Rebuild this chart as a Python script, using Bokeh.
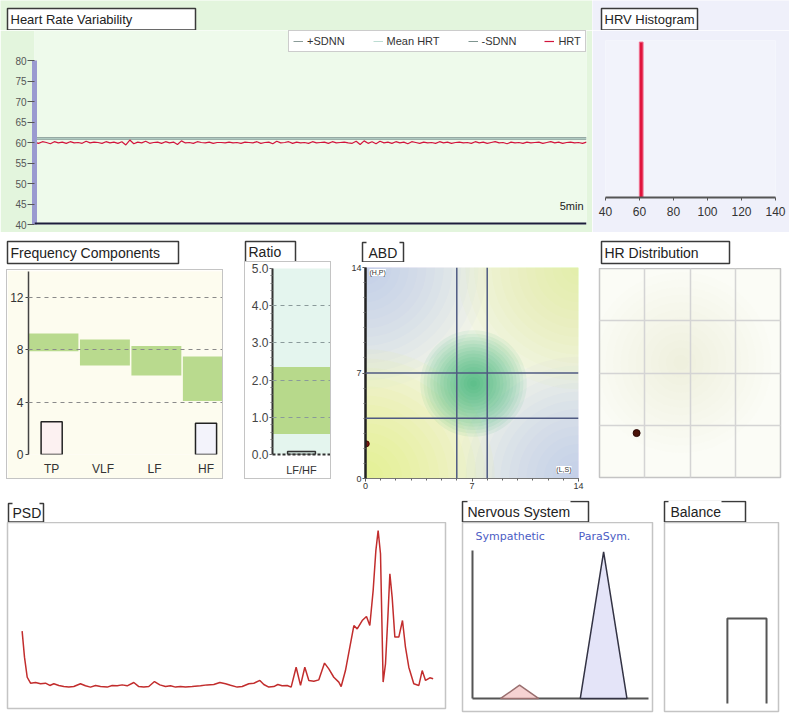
import numpy as np
from bokeh.plotting import figure
from bokeh.layouts import row, column
from bokeh.models import (BoxAnnotation, Label, Span, Legend, LegendItem, FixedTicker,
                          Range1d, FactorRange, ColumnDataSource, Grid, PrintfTickFormatter,
                          Spacer)
from bokeh.embed import file_html
from bokeh.resources import INLINE

# ---------------- data ----------------
hrt = [60.1, 59.8, 60.2, 60.0, 59.7, 60.2, 59.9, 60.1, 59.8, 60.2,
       59.9, 60.0, 59.8, 60.3, 59.9, 60.1, 60.0, 59.8, 60.2, 59.9,
       60.1, 59.8, 60.2, 59.4, 60.6, 59.7, 60.1, 59.9, 60.3, 59.8,
       60.0, 60.1, 59.8, 60.2, 59.9, 60.1, 59.5, 60.4, 59.9, 60.0,
       59.8, 60.2, 60.0, 59.9, 60.1, 59.8, 60.0, 60.0, 59.9, 60.1,
       59.9, 60.0, 59.8, 60.1, 60.0, 59.9, 60.2, 59.8, 60.0, 60.1,
       59.7, 60.3, 59.9, 60.0, 60.2, 59.8, 60.1, 59.9, 60.0, 59.8,
       60.2, 59.9, 60.0, 60.1, 59.8, 60.2, 59.9, 60.0, 60.1, 59.9,
       59.8, 60.3, 59.5, 60.4, 59.8, 60.2, 59.7, 60.3, 59.9, 60.1,
       59.8, 60.2, 59.9, 60.1, 59.7, 60.2, 60.0, 59.8, 60.1, 59.9,
       60.0, 59.8, 60.2, 59.9, 60.1, 59.8, 60.0, 60.1, 59.9, 60.0,
       59.8, 60.2, 59.9, 60.1, 59.8, 60.0, 60.2, 59.9, 60.0, 59.7,
       60.1, 59.9, 60.0, 59.8, 60.1, 59.9, 60.0, 60.1, 59.8, 60.0,
       60.2, 59.9, 60.1, 59.8, 60.0, 60.1, 59.9, 60.0, 59.8, 60.1]
mean_hrt = 61.0
sdnn = 0.2
hrv_ticks = [40, 45, 50, 55, 60, 65, 70, 75, 80]

hist_bin = [61]
hist_freq = [0.99]
hist_ticks = [40, 60, 80, 100, 120, 140]

freq_cats = ["TP", "VLF", "LF", "HF"]
freq_low = [7.9, 6.8, 6.05, 4.1]
freq_high = [9.25, 8.8, 8.3, 7.5]
freq_val = [2.5, 0.0, 0.0, 2.4]
freq_ticks = [0, 4, 8, 12]

ratio_cat = ["LF/HF"]
ratio_low = [0.55]
ratio_high = [2.35]
ratio_val = [0.08]
ratio_ticks = [0, 1, 2, 3, 4, 5]

abd_ticks = [0, 7, 14]
abd_vlines = [6, 8]
abd_hlines = [4, 7]
abd_cx = [7.1]
abd_cy = [6.3]
abd_pt_x = [0.05]
abd_pt_y = [2.3]

hrd_x = [0.82]
hrd_y = [0.85]

psd_freq = [0.0167, 0.0194, 0.0225, 0.0263, 0.0320, 0.0377, 0.0434, 0.0483, 0.0529, 0.0586,
            0.0643, 0.0700, 0.0757, 0.0833, 0.0890, 0.0947, 0.1005, 0.1062, 0.1138, 0.1195,
            0.1252, 0.1309, 0.1366, 0.1442, 0.1499, 0.1556, 0.1613, 0.1678, 0.1739, 0.1804,
            0.1861, 0.1918, 0.1975, 0.2032, 0.2108, 0.2203, 0.2279, 0.2355, 0.2424, 0.2489,
            0.2546, 0.2622, 0.2679, 0.2755, 0.2812, 0.2881, 0.2926, 0.2983, 0.3040, 0.3086,
            0.3135, 0.3193, 0.3238, 0.3295, 0.3345, 0.3394, 0.3440, 0.3497, 0.3554, 0.3619,
            0.3668, 0.3725, 0.3782, 0.3809, 0.3858, 0.3908, 0.3954, 0.3992, 0.4049, 0.4098,
            0.4136, 0.4174, 0.4205, 0.4231, 0.4258, 0.4288, 0.4315, 0.4342, 0.4365, 0.4391,
            0.4422, 0.4467, 0.4509, 0.4543, 0.4581, 0.4638, 0.4696, 0.4734, 0.4772, 0.4821, 0.4859]
psd_power = [41.6, 27.6, 16.8, 13.6, 14.0, 13.3, 13.6, 12.4, 13.3, 12.4,
             11.8, 11.5, 11.8, 13.3, 12.2, 11.5, 12.4, 11.8, 11.5, 12.4,
             12.2, 12.7, 12.2, 14.0, 11.8, 11.5, 11.8, 14.5, 12.7, 11.8,
             12.2, 11.5, 11.8, 11.5, 11.8, 12.2, 12.7, 12.9, 14.0, 13.3,
             12.5, 11.5, 11.8, 13.3, 13.6, 15.1, 12.9, 11.5, 11.8, 12.9,
             12.2, 12.4, 11.5, 22.2, 12.4, 22.2, 15.1, 14.7, 15.4, 24.4,
             21.3, 16.8, 14.2, 11.8, 20.4, 33.0, 44.6, 42.8, 47.3, 49.5,
             44.6, 63.4, 84.9, 95.7, 83.2, 14.2, 24.0, 49.1, 72.4, 59.9,
             38.4, 38.4, 47.3, 33.0, 22.2, 13.3, 12.4, 20.4, 15.1, 16.5, 16.0]

ns_labels = ["Sympathetic", "ParaSym."]
ns_vals = [0.09, 0.99]

balance_pos = [0.67]
balance_level = [0.47]

# ---------------- helpers ----------------
FONT = "Liberation Sans"
SVG = dict(output_backend="svg", toolbar_location=None, title=None, frame_align=False)
OUTLINE = {"outline": "1px solid #c4c4c4"}


def borders(l, r, t, b):
    return dict(min_border_left=l, min_border_right=r, min_border_top=t, min_border_bottom=b)


def cbox(p, l, t, r, b, fill=None, line=None, lw=1.0):
    p.add_layout(BoxAnnotation(
        left=l, right=r, top=t, bottom=b,
        left_units="canvas", right_units="canvas", top_units="canvas", bottom_units="canvas",
        fill_color=fill, fill_alpha=1.0, line_color=line, line_width=lw, line_alpha=1.0,
        level="annotation"))


def ctext(p, x, y, text, size="14px", color="#222222", font=FONT, align="left", bg=None):
    p.add_layout(Label(x=x, y=y, x_units="canvas", y_units="canvas", text=text,
                       text_font=font, text_font_size=size, text_color=color,
                       text_align=align, text_baseline="middle",
                       background_fill_color=bg))


def drop_grids(p):
    p.center = [r for r in p.center if not isinstance(r, Grid)]


def title_fig(W, H, fill, box, text, tx=None, gap=None, size="14px"):
    t = figure(width=W, height=H, x_range=Range1d(0, W), y_range=Range1d(0, H),
               x_axis_location=None, y_axis_location=None, **borders(0, 0, 0, 0), **SVG)
    t.border_fill_color = fill
    t.background_fill_color = fill
    t.outline_line_color = None
    drop_grids(t)
    l, tp, r, b = box
    cbox(t, l, tp, r, b, fill="white", line="#3a3a3a", lw=1.5)
    if gap:
        cbox(t, gap[0], tp - 2, gap[1], tp + 1.5, fill="white")
    ctext(t, tx if tx is not None else l + 3, (tp + b) / 2 + 0.5, text, size=size)
    return t


def rings(p, x, y, rmax, color, alpha, n):
    for k in range(n):
        p.circle(x=x, y=y, radius=rmax * (k + 1) / n, fill_color=color,
                 fill_alpha=alpha, line_color=None)


def style_axis(ax, size="12px", color="#333333", standoff=2):
    ax.major_label_text_font = FONT
    ax.major_label_text_font_size = size
    ax.major_label_text_color = color
    ax.major_label_standoff = standoff


GREEN_BG = "#e3f5dd"
LAV_BG = "#eff0fa"

# ---------------- HRV ----------------
N = len(hrt)
beat = list(range(N))
t1 = title_fig(592, 30, GREEN_BG, (7, 8, 195, 29.5), "Heart Rate Variability", size="13px")
p1 = figure(width=592, height=202, x_range=Range1d(0, N - 1), y_range=Range1d(40, 87.32),
            x_axis_location=None, **borders(34, 6, 0, 8), **SVG)
p1.border_fill_color = GREEN_BG
p1.background_fill_color = "#eefaeb"
p1.outline_line_color = None
drop_grids(p1)
ya = p1.yaxis[0]
ya.ticker = FixedTicker(ticks=hrv_ticks)
ya.bounds = (40, 80)
ya.axis_line_color = "#9a9ad0"
ya.axis_line_width = 5
ya.major_tick_out = 7
ya.major_tick_in = 0
ya.major_tick_line_color = "#555555"
ya.minor_tick_line_color = None
style_axis(ya, size="10px", color="#555555", standoff=1)

r_plus = p1.line([0, N - 1], [mean_hrt + sdnn] * 2, line_color="#8a9c98", line_width=1)
r_mean = p1.line([0, N - 1], [mean_hrt] * 2, line_color="#bcdcd2", line_width=1)
r_minus = p1.line([0, N - 1], [mean_hrt - sdnn] * 2, line_color="#7f9590", line_width=1)
r_hrt = p1.line(beat, hrt, line_color="#d2143c", line_width=1.2)

legend = Legend(items=[LegendItem(label="+SDNN", renderers=[r_plus]),
                       LegendItem(label="Mean HRT", renderers=[r_mean]),
                       LegendItem(label="-SDNN", renderers=[r_minus]),
                       LegendItem(label="HRT", renderers=[r_hrt])],
                orientation="horizontal", location=(254, 172),
                label_text_font=FONT, label_text_font_size="11px", label_text_color="#333333",
                glyph_width=10, glyph_height=10, label_standoff=4, spacing=28,
                padding=4, margin=0, border_line_color="#9a9a9a",
                background_fill_color="white", background_fill_alpha=1.0)
p1.add_layout(legend)
p1.add_layout(Span(location=40, dimension="width", line_color="#1c1c3a", line_width=4))
ctext(p1, 583, 175, "5min", size="11px", color="#222222", align="right")

# ---------------- HRV Histogram ----------------
t2 = title_fig(197, 30, LAV_BG, (9, 8, 105, 29.5), "HRV Histogram", size="13px")
p2 = figure(width=197, height=202, x_range=Range1d(40, 140), y_range=Range1d(0, 1),
            y_axis_location=None, **borders(13, 14, 10, 35), **SVG)
p2.border_fill_color = LAV_BG
p2.background_fill_color = "#f2f3fb"
p2.outline_line_color = None
drop_grids(p2)
xa = p2.xaxis[0]
xa.ticker = FixedTicker(ticks=hist_ticks)
xa.axis_line_color = "#555555"
xa.axis_line_width = 2
xa.major_tick_out = 3
xa.major_tick_in = 0
xa.major_tick_line_color = "#555555"
xa.minor_tick_line_color = None
style_axis(xa, size="12px", color="#333333", standoff=6)
p2.vbar(x=hist_bin, top=hist_freq, width=2.2, fill_color="#e0143c",
        line_color="#f07090", line_width=1)

# ---------------- Frequency Components ----------------
CREAM = "#fdfcef"
t3 = title_fig(238, 36, "white", (7, 9, 178, 31), "Frequency Components")
freq_pos = list(range(len(freq_cats)))
p3 = figure(width=215, height=208, x_range=Range1d(-0.45, 3.32), y_range=Range1d(0, 14),
            **borders(21, 0, 1, 15), **SVG)
p3.styles = OUTLINE
p3.border_fill_color = CREAM
p3.background_fill_color = CREAM
p3.outline_line_color = None
p3.xgrid.visible = False
p3.ygrid.ticker = FixedTicker(ticks=freq_ticks)
p3.ygrid.grid_line_color = "#8a8a8a"
p3.ygrid.grid_line_dash = "4 4"
p3.ygrid.grid_line_width = 1.2
p3.ygrid.level = "annotation"
ya = p3.yaxis[0]
ya.ticker = FixedTicker(ticks=freq_ticks)
ya.axis_line_color = "#444444"
ya.axis_line_width = 1.5
ya.major_tick_out = 3
ya.major_tick_in = 0
ya.major_tick_line_color = "#444444"
ya.minor_tick_line_color = None
style_axis(ya, standoff=2)
xa = p3.xaxis[0]
xa.ticker = FixedTicker(ticks=freq_pos)
xa.major_label_overrides = {i: c for i, c in zip(freq_pos, freq_cats)}
xa.axis_line_color = None
xa.major_tick_line_color = None
xa.minor_tick_line_color = None
style_axis(xa, standoff=1)
p3.vbar(x=[i + 0.035 for i in freq_pos], bottom=freq_low, top=freq_high, width=0.97,
        fill_color="#b9da8e", line_color=None)
keep = [i for i, v in enumerate(freq_val) if v > 0]
fsrc = ColumnDataSource(dict(x=[freq_pos[i] for i in keep], val=[freq_val[i] for i in keep],
                             fill=["#fcf1f1", "#f3f3fb"]))
p3.vbar(x="x", top="val", width=0.41, source=fsrc,
        fill_color="fill", line_color="#222222", line_width=1.5)
freq_body = column(Spacer(width=238, height=2),
                   row(Spacer(width=7, height=208), p3, Spacer(width=16, height=208)),
                   Spacer(width=238, height=22))

# ---------------- Ratio ----------------
t4 = title_fig(110, 30, "white", (7, 9, 57, 29.5), "Ratio")
p4 = figure(width=85, height=216, x_range=FactorRange(factors=ratio_cat),
            y_range=Range1d(0, 5), **borders(27, 0, 6, 16), **SVG)
p4.styles = OUTLINE
p4.border_fill_color = "white"
p4.background_fill_color = "#e4f5ee"
p4.outline_line_color = None
p4.xgrid.visible = False
p4.ygrid.ticker = FixedTicker(ticks=ratio_ticks[1:])
p4.ygrid.grid_line_color = "#8a9a9a"
p4.ygrid.grid_line_dash = "4 4"
p4.ygrid.grid_line_width = 1.2
p4.ygrid.level = "annotation"
ya = p4.yaxis[0]
ya.ticker = FixedTicker(ticks=ratio_ticks, minor_ticks=[i / 5 for i in range(26)])
ya.formatter = PrintfTickFormatter(format="%.1f")
ya.axis_line_color = "#333333"
ya.axis_line_width = 2
ya.major_tick_out = 3
ya.major_tick_in = 0
ya.minor_tick_out = 2
ya.minor_tick_in = 0
ya.major_tick_line_color = "#555555"
ya.minor_tick_line_color = "#777777"
style_axis(ya, color="#444444", standoff=1)
xa = p4.xaxis[0]
xa.axis_line_color = "#333333"
xa.axis_line_width = 2
xa.axis_line_dash = "3 2"
xa.major_tick_line_color = None
xa.minor_tick_line_color = None
style_axis(xa, size="11px", standoff=3)
p4.vbar(x=ratio_cat, bottom=ratio_low, top=ratio_high, width=1.0,
        fill_color="#b7d98b", line_color=None)
p4.vbar(x=ratio_cat, top=ratio_val, width=0.48, fill_color="#d8ece4",
        line_color="#333333", line_width=1.5)
ratio_body = column(row(Spacer(width=7, height=216), p4, Spacer(width=18, height=216)),
                    Spacer(width=110, height=22))

# ---------------- ABD ----------------
t5 = title_fig(245, 30, "white", (14, 10, 55, 29.5), "ABD", tx=20, gap=(18, 51))
p5 = figure(width=245, height=238, x_range=Range1d(0, 14), y_range=Range1d(0, 14),
            **borders(16, 15, 5, 22), **SVG)
p5.border_fill_color = "white"
p5.background_fill_color = "#f4f6e8"
p5.outline_line_color = None
drop_grids(p5)
for ax in (p5.xaxis[0], p5.yaxis[0]):
    ax.ticker = FixedTicker(ticks=abd_ticks, minor_ticks=list(range(15)))
    ax.major_tick_out = 3
    ax.major_tick_in = 0
    ax.minor_tick_out = 2
    ax.minor_tick_in = 0
    ax.major_tick_line_color = "#444444"
    ax.minor_tick_line_color = "#666666"
    style_axis(ax, size="9px", standoff=1)
p5.yaxis[0].axis_line_color = "#222222"
p5.yaxis[0].axis_line_width = 2.5
p5.xaxis[0].axis_line_color = "#777777"
p5.xaxis[0].axis_line_width = 1
rings(p5, [0], [14], 8, "#b2c0e6", 0.06, 14)
rings(p5, [14], [0], 8, "#b2c0e6", 0.06, 14)
rings(p5, [14], [14], 8, "#e0ec80", 0.06, 14)
rings(p5, [0], [0], 8.5, "#e2ee78", 0.07, 14)
rings(p5, abd_cx, abd_cy, 3.5, "#22aa66", 0.075, 16)
for v in abd_vlines:
    p5.add_layout(Span(location=v, dimension="height", line_color="#4f5a82", line_width=1.5))
for h in abd_hlines:
    p5.add_layout(Span(location=h, dimension="width", line_color="#4f5a82", line_width=1.5))
p5.scatter(x=abd_pt_x, y=abd_pt_y, size=6, fill_color="#7a1a10", line_color="#4a0a05")
ctext(p5, 21, 10, "(H,P)", size="7px", color="#333333", bg="white")
ctext(p5, 223, 207, "(L,S)", size="7px", color="#333333", align="right", bg="white")

# ---------------- HR Distribution ----------------
t6 = title_fig(196, 36, "white", (8, 9, 136, 31), "HR Distribution")
p6 = figure(width=196, height=232, x_range=Range1d(0, 4), y_range=Range1d(0, 4),
            x_axis_location=None, y_axis_location=None, **borders(6, 9, 0, 23), **SVG)
p6.border_fill_color = "white"
p6.background_fill_color = "#fbfcf6"
p6.outline_line_color = "#c4c4c4"
p6.outline_line_width = 1.5
drop_grids(p6)
for d in (0, 1):
    p6.add_layout(Grid(dimension=d, ticker=FixedTicker(ticks=[1, 2, 3]),
                       grid_line_color="#d4d4d4", grid_line_width=1.5, level="annotation"))
rings(p6, [1.8], [2.2], 2.0, "#d4e8b0", 0.025, 12)
p6.scatter(x=hrd_x, y=hrd_y, size=7, fill_color="#4a1208", line_color="#2a0804")

# ---------------- PSD ----------------
t7 = title_fig(455, 22, "white", (8, 3, 43, 21.5), "PSD", tx=12, gap=(12, 39))
p7 = figure(width=455, height=197, x_range=Range1d(0, 0.5), y_range=Range1d(0, 100),
            x_axis_location=None, y_axis_location=None, **borders(7, 10, 0, 11), **SVG)
p7.border_fill_color = "white"
p7.background_fill_color = "white"
p7.outline_line_color = "#c4c4c4"
p7.outline_line_width = 1.5
drop_grids(p7)
p7.line(psd_freq, psd_power, line_color="#c22d2d", line_width=1.5)

# ---------------- Nervous System ----------------
t8 = title_fig(200, 22, "white", (7, 1, 133, 21.5), "Nervous System", tx=12, gap=(12, 115))
p8 = figure(width=200, height=197, x_range=Range1d(-0.227, 4.091), y_range=Range1d(-0.088, 1.189),
            x_axis_location=None, y_axis_location=None, **borders(7, 3, 0, 8), **SVG)
p8.border_fill_color = "white"
p8.background_fill_color = "white"
p8.outline_line_color = "#c4c4c4"
p8.outline_line_width = 1.5
drop_grids(p8)
p8.segment(x0=[0, 0], y0=[0, 0], x1=[0, 4], y1=[1, 0], line_color="#555555", line_width=2)
ns_center = [1.07, 2.98]
ns_half = [0.43, 0.53]
ns_xs = [[c - h, c, c + h] for c, h in zip(ns_center, ns_half)]
ns_ys = [[0, v, 0] for v in ns_vals]
p8.patches(ns_xs, ns_ys, fill_color=["#f6d2d2", "#e4e4f8"],
           line_color=["#9a7070", "#333344"], line_width=1.5)
ctext(p8, 20, 14, ns_labels[0], size="11px", color="#4b5cc4", font="DejaVu Sans")
ctext(p8, 123, 14, ns_labels[1], size="11px", color="#4b5cc4", font="DejaVu Sans")

# ---------------- Balance ----------------
t9 = title_fig(134, 22, "white", (9, 1, 90, 21.5), "Balance", tx=15, gap=(13, 66))
p9 = figure(width=134, height=197, x_range=Range1d(-1.5, 1.5), y_range=Range1d(-0.044, 1.0),
            x_axis_location=None, y_axis_location=None, **borders(9, 11, 0, 8), **SVG)
p9.border_fill_color = "white"
p9.background_fill_color = "white"
p9.outline_line_color = "#c4c4c4"
p9.outline_line_width = 1.5
drop_grids(p9)
bw = 1.03
bx = [[c - bw / 2, c - bw / 2, c + bw / 2, c + bw / 2] for c in balance_pos]
by = [[0, v, v, 0] for v in balance_level]
p9.multi_line(bx, by, line_color="#555555", line_width=2)

layout = column(
    row(column(t1, p1), column(t2, p2)),
    row(column(t3, freq_body), column(t4, ratio_body), column(t5, p5), column(t6, p6)),
    row(column(t7, p7), column(t8, p8), column(t9, p9)),
)
open("out.html", "w").write(file_html(layout, INLINE))
